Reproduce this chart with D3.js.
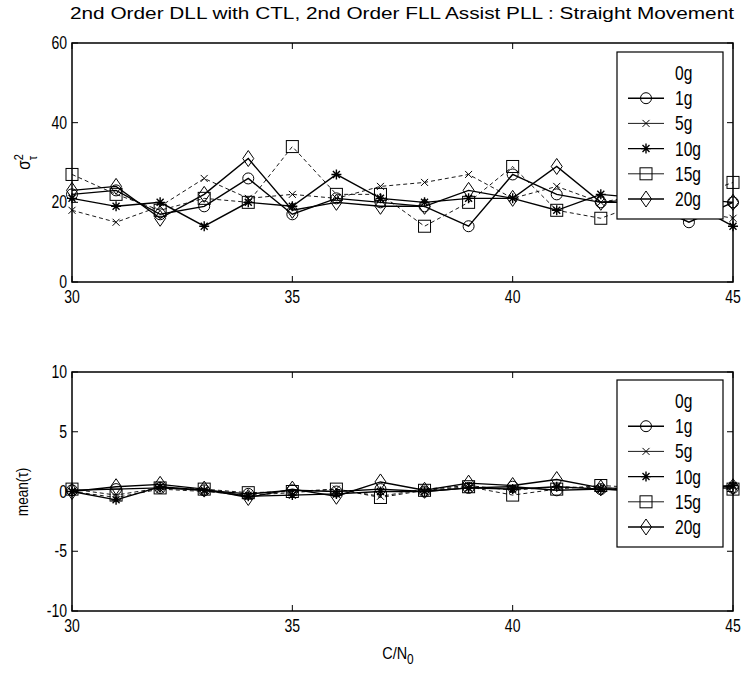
<!DOCTYPE html>
<html>
<head>
<meta charset="utf-8">
<script src="https://cdn.jsdelivr.net/npm/d3@7"></script>
<style>
  body { margin: 0; background: #fff; }
  svg { display: block; }
  text { font-family: 'Liberation Sans Narrow', 'Arial Narrow', 'Liberation Sans', sans-serif; fill: #000; }
</style>
</head>
<body>
<svg id="canvas" width="747" height="679"></svg>
<script>
// Data
const cn0 = [30, 31, 32, 33, 34, 35, 36, 37, 38, 39, 40, 41, 42, 43, 44, 45];
const seriesNames = ['0g', '1g', '5g', '10g', '15g', '20g'];

// sigma^2 of tau (top panel)
const var1g  = [22, 23, 17, 19, 26, 17, 21, 20, 19, 14, 27, 22, 20, 20, 15, 20];
const var5g  = [18, 15, 19, 26, 21, 22, 21, 24, 25, 27, 21, 24, 20, 22, 18, 16];
const var10g = [21, 19, 20, 14, 20, 19, 27, 21, 20, 21, 21, 18, 22, 21, 20, 14];
const var15g = [27, 22, 18, 21, 20, 34, 22, 22, 14, 20, 29, 18, 16, 20, 21, 25];
const var20g = [23, 24, 16, 22, 31, 18, 20, 19, 19, 23, 21, 29, 20, 21, 21, 20];

// mean of tau (bottom panel)
const mean1g  = [0.1, 0.2, 0.3, 0.1, -0.2, 0.1, 0.0, 0.2, 0.0, 0.3, 0.4, 0.1, 0.2, 0.1, 0.2, 0.3];
const mean5g  = [0.0, -0.5, 0.2, 0.0, -0.3, -0.1, 0.2, -0.4, 0.2, 0.5, 0.1, 0.4, 0.3, 0.2, 0.1, 0.4];
const mean10g = [0.0, -0.7, 0.4, 0.1, -0.4, -0.3, -0.2, 0.0, 0.0, 0.3, 0.2, 0.4, 0.2, 0.0, 0.3, 0.5];
const mean15g = [0.2, -0.3, 0.3, 0.2, -0.1, 0.0, 0.2, -0.5, 0.1, 0.4, -0.3, 0.2, 0.5, 0.3, 0.2, 0.2];
const mean20g = [0.0, 0.4, 0.6, 0.2, -0.5, 0.2, -0.4, 0.8, 0.1, 0.7, 0.5, 1.0, 0.3, 0.2, 0.4, 0.4];

const xTicks = [30, 35, 40, 45];
const varTicks = [0, 20, 40, 60];
const meanTicks = [-10, -5, 0, 5, 10];

// Styles per series (0g is not visible in the plot)
const styles = {
    '1g':  { marker: 'circle',   dash: null,  width: 1.4 },
    '5g':  { marker: 'x',        dash: '4,3', width: 0.9 },
    '10g': { marker: 'asterisk', dash: null,  width: 1.4 },
    '15g': { marker: 'square',   dash: '4,3', width: 0.9 },
    '20g': { marker: 'diamond',  dash: null,  width: 1.4 }
};

const svg = d3.select('#canvas');
const left = 72, right = 733;
const NARROW = 0.78;

const x = d3.scaleLinear().domain([30, 45]).range([left, right]);

// narrow text: the narrow font is not installed, so squeeze horizontally
const label = (parent, tx, ty, str, size, anchor) =>
    parent.append('text')
        .attr('transform', `translate(${tx},${ty}) scale(${NARROW},1)`)
        .attr('text-anchor', anchor || 'start')
        .style('font-size', size + 'px')
        .text(str);

const drawMarker = (g, type, cx, cy) => {
    const m = g.append('g').attr('transform', `translate(${cx},${cy})`)
        .attr('fill', 'none').attr('stroke', '#000').attr('stroke-width', 1);
    if (type === 'circle') {
        m.append('circle').attr('r', 5.5);
    } else if (type === 'x') {
        m.append('path').attr('d', 'M-3.5,-3.5L3.5,3.5M-3.5,3.5L3.5,-3.5');
    } else if (type === 'asterisk') {
        m.append('path').attr('d', 'M-5,0L5,0M0,-5L0,5M-3.5,-3.5L3.5,3.5M-3.5,3.5L3.5,-3.5')
            .attr('stroke-width', 1.4);
    } else if (type === 'square') {
        m.append('rect').attr('x', -6).attr('y', -6).attr('width', 12).attr('height', 12);
    } else if (type === 'diamond') {
        m.append('path').attr('d', 'M0,-8L5.5,0L0,8L-5.5,0Z');
    }
};

const drawPanel = (cfg) => {
    const y = d3.scaleLinear().domain(cfg.domain).range([cfg.bottom, cfg.top]);
    const g = svg.append('g');

    // lines and markers
    cfg.series.forEach(s => {
        const st = styles[s.name];
        const line = d3.line().x((d, i) => x(cn0[i])).y(d => y(d));
        g.append('path')
            .datum(s.values)
            .attr('d', line)
            .attr('fill', 'none')
            .attr('stroke', '#000')
            .attr('stroke-width', st.width)
            .attr('stroke-dasharray', st.dash);
        s.values.forEach((v, i) => drawMarker(g, st.marker, x(cn0[i]), y(v)));
    });

    // box
    g.append('rect')
        .attr('x', left).attr('y', cfg.top)
        .attr('width', right - left).attr('height', cfg.bottom - cfg.top)
        .attr('fill', 'none').attr('stroke', '#000').attr('stroke-width', 1.5);

    // ticks pointing inward
    const tl = 6;
    xTicks.forEach(t => {
        g.append('line').attr('x1', x(t)).attr('x2', x(t))
            .attr('y1', cfg.bottom).attr('y2', cfg.bottom - tl).attr('stroke', '#000');
        g.append('line').attr('x1', x(t)).attr('x2', x(t))
            .attr('y1', cfg.top).attr('y2', cfg.top + tl).attr('stroke', '#000');
        label(g, x(t), cfg.bottom + 21, t, 18, 'middle');
    });
    cfg.ticks.forEach(t => {
        g.append('line').attr('x1', left).attr('x2', left + tl)
            .attr('y1', y(t)).attr('y2', y(t)).attr('stroke', '#000');
        g.append('line').attr('x1', right).attr('x2', right - tl)
            .attr('y1', y(t)).attr('y2', y(t)).attr('stroke', '#000');
        label(g, left - 5, y(t) + 6, t, 18, 'end');
    });

    // legend
    const lg = g.append('g');
    const lx0 = 617, lx1 = 723;
    lg.append('rect').attr('x', lx0).attr('y', cfg.legendTop)
        .attr('width', lx1 - lx0).attr('height', 167)
        .attr('fill', '#fff').attr('stroke', '#000').attr('stroke-width', 1.2);
    seriesNames.forEach((name, i) => {
        const ly = cfg.legendTop + 21 + i * 25.2;
        label(lg, 675, ly + 7, name, 20, 'start');
        const st = styles[name];
        if (!st) return;
        lg.append('line').attr('x1', 628).attr('x2', 664)
            .attr('y1', ly).attr('y2', ly)
            .attr('stroke', '#000').attr('stroke-width', st.width);
        drawMarker(lg, st.marker, 646, ly);
    });
    return y;
};

// Title
svg.append('text').attr('x', 402).attr('y', 19)
    .attr('text-anchor', 'middle').style('font-size', '16px')
    .attr('textLength', 664).attr('lengthAdjust', 'spacingAndGlyphs')
    .text('2nd Order DLL with CTL, 2nd Order FLL Assist PLL : Straight Movement');

drawPanel({
    top: 43, bottom: 282, domain: [0, 60], ticks: varTicks, legendTop: 52,
    series: [
        { name: '1g', values: var1g },
        { name: '5g', values: var5g },
        { name: '10g', values: var10g },
        { name: '15g', values: var15g },
        { name: '20g', values: var20g }
    ]
});

drawPanel({
    top: 372, bottom: 611, domain: [-10, 10], ticks: meanTicks, legendTop: 380,
    series: [
        { name: '1g', values: mean1g },
        { name: '5g', values: mean5g },
        { name: '10g', values: mean10g },
        { name: '15g', values: mean15g },
        { name: '20g', values: mean20g }
    ]
});

// Y labels
const yl1 = svg.append('text')
    .attr('transform', 'translate(30,162) rotate(-90) scale(0.85,1)')
    .attr('text-anchor', 'middle').style('font-size', '18px');
yl1.append('tspan').text('σ');
yl1.append('tspan').attr('dy', -7).style('font-size', '13px').text('2');
yl1.append('tspan').attr('dx', -7).attr('dy', 14).style('font-size', '13px').text('τ');

svg.append('text')
    .attr('transform', 'translate(28,492) rotate(-90) scale(0.85,1)')
    .attr('text-anchor', 'middle').style('font-size', '16px')
    .text('mean(τ)');

// X label
const xl = svg.append('text')
    .attr('transform', 'translate(398,659) scale(0.85,1)')
    .attr('text-anchor', 'middle').style('font-size', '17px');
xl.append('tspan').text('C/N');
xl.append('tspan').attr('dy', 5).style('font-size', '14px').text('0');
</script>
</body>
</html>
